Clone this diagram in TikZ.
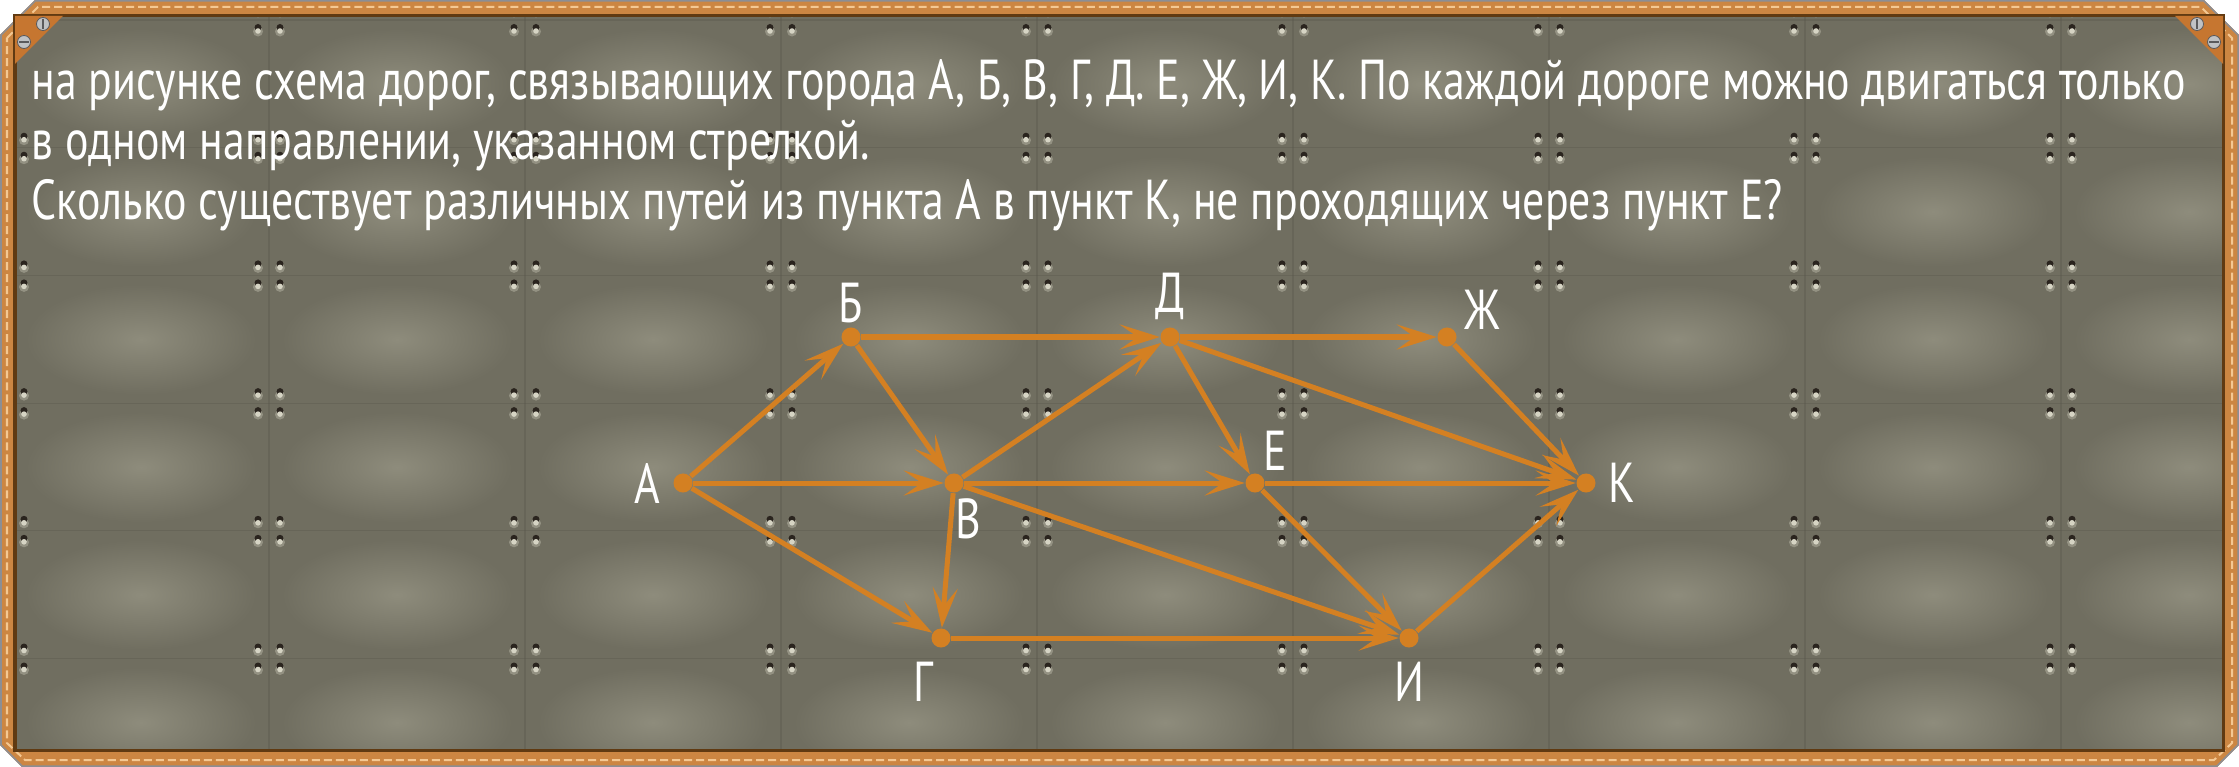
\documentclass[tikz,border=0pt]{standalone}
\usepackage{fontspec}
\setmainfont{PT Sans}[FakeStretch=0.78]
\usepackage{xcolor}
\usepackage{tikz}
\usetikzlibrary{positioning,arrows.meta}
\definecolor{panelcol}{RGB}{112,110,96}
\definecolor{patchcol}{RGB}{142,140,124}
\definecolor{seamcol}{RGB}{88,86,74}
\definecolor{roadcol}{RGB}{212,128,34}
\definecolor{framecol}{RGB}{204,134,66}
\definecolor{stitchcol}{RGB}{244,200,146}
\definecolor{rimcol}{RGB}{140,142,148}
\definecolor{edgecol}{RGB}{96,58,18}
\definecolor{rivetdark}{RGB}{42,36,30}
\definecolor{rivetlight}{RGB}{214,212,196}
\definecolor{platecol}{RGB}{198,118,48}
\definecolor{screwcol}{RGB}{192,194,196}
\definecolor{screwslot}{RGB}{90,90,92}

\begin{document}
\begin{tikzpicture}[
                x=0.01cm, y=-0.01cm,
                font=\fontsize{16pt}{20pt}\selectfont,
                >={Stealth[length=4mm, width=2.5mm, inset=1.8mm]},
                town/.style={circle, fill=roadcol, inner sep=0pt, minimum size=0.19cm},
                townlabel/.style={text=white, inner sep=0pt},
                road/.style={->, line width=0.05cm, draw=roadcol},
                textline/.style={text=white, anchor=base west, inner sep=0pt},
                screw/.style={fill=screwcol, draw=screwslot, line width=0.008cm}
                ]
                \useasboundingbox (0,0) rectangle (2239,767);

                % frame
                \fill[framecol] (0,35) -- (35,0) -- (2204,0) -- (2239,35) -- (2239,745) -- (2217,767) -- (22,767) -- (0,745) -- cycle;
                \draw[rimcol, line width=0.015cm] (1,35) -- (35,1) -- (2204,1) -- (2238,35) -- (2238,745) -- (2217,766) -- (22,766) -- (1,745) -- cycle;
                \draw[stitchcol, line width=0.02cm, dash pattern=on 0.08cm off 0.04cm] (7,38) -- (38,7) -- (2201,7) -- (2232,38) -- (2232,743) -- (2214,760) -- (25,760) -- (7,743) -- cycle;
                \fill[panelcol] (15,16) rectangle (2223,750);

                % panel texture: light patches, seams, rivets
                \begin{scope}
                    \clip (15,16) rectangle (2223,750);
                    \foreach \i in {0,...,8} {
                        \foreach \j in {0,...,5} {
                            \shade[inner color=patchcol, outer color=panelcol]
                                ({13+256*\i+128},{20+127.7*\j+64}) ellipse (1.15cm and 0.55cm);
                        }
                    }
                    \foreach \i in {0,...,8}
                        \draw[seamcol, line width=0.012cm, opacity=0.35] ({13+256*\i},16) -- ({13+256*\i},750);
                    \foreach \j in {0,...,5}
                        \draw[seamcol, line width=0.012cm, opacity=0.35] (15,{20+127.7*\j}) -- (2223,{20+127.7*\j});
                    \foreach \i in {0,...,8} {
                        \foreach \j in {0,...,5} {
                            \foreach \dx in {-11,11} {
                                \foreach \dy in {-9.5,9.5} {
                                    \fill[rivetlight, opacity=0.35] ({13+256*\i+\dx},{20+127.7*\j+\dy+2}) circle (0.05cm);
                                    \fill[rivetdark] ({13+256*\i+\dx},{20+127.7*\j+\dy-2}) circle (0.035cm);
                                    \fill[rivetlight] ({13+256*\i+\dx},{20+127.7*\j+\dy+1.5}) circle (0.028cm);
                                }
                            }
                        }
                    }
                \end{scope}
                \draw[edgecol, line width=0.03cm] (15,16) rectangle (2223,750);

                % corner plates with screws
                \fill[platecol] (15,16) -- (63,16) -- (15,64) -- cycle;
                \fill[platecol] (2223,16) -- (2175,16) -- (2223,64) -- cycle;
                \filldraw[screw] (43,24) circle (0.065cm);
                \filldraw[screw] (24,42) circle (0.065cm);
                \filldraw[screw] (2197,24) circle (0.065cm);
                \filldraw[screw] (2214,42) circle (0.065cm);
                \draw[screwslot, line width=0.015cm] (43,19) -- (43,29) (19,42) -- (29,42) (2197,19) -- (2197,29) (2209,42) -- (2219,42);

                % task text
                \node[textline] (line1) at (31,100) {на рисунке схема дорог, связывающих города А, Б, В, Г, Д. Е, Ж, И, К. По каждой дороге можно двигаться только};
                \node[textline] (line2) at (31,160) {в одном направлении, указанном стрелкой.};
                \node[textline] (line3) at (31,220) {Сколько существует различных путей из пункта А в пункт К, не проходящих через пункт Е?};

                % towns
                \node[town] (a) at (683,483) {};
                \node[town] (b) at (851,337) {};
                \node[town] (v) at (954,483) {};
                \node[town] (d) at (1170,337) {};
                \node[town] (zh) at (1447,337) {};
                \node[town] (e) at (1255,483) {};
                \node[town] (k) at (1586,483) {};
                \node[town] (i) at (1409,638) {};
                \node[town] (g) at (941,638) {};

                \node[townlabel, left=0.12cm of a] (la) {А};
                \node[townlabel, above=0.03cm of b] (lb) {Б};
                \node[townlabel, below right=0.08cm and -0.06cm of v] (lv) {В};
                \node[townlabel, above=0.06cm of d] (ld) {Д};
                \node[townlabel, above right=0.0cm and 0.1cm of zh] (lzh) {Ж};
                \node[townlabel, above right=0.05cm and 0.01cm of e] (le) {Е};
                \node[townlabel, right=0.12cm of k] (lk) {К};
                \node[townlabel, below=0.13cm of i] (li) {И};
                \node[townlabel, below left=0.16cm and 0cm of g] (lg) {Г};

                % roads
                \draw[road] (a) -- (b);
                \draw[road] (a) -- (v);
                \draw[road] (a) -- (g);
                \draw[road] (b) -- (d);
                \draw[road] (b) -- (v);
                \draw[road] (v) -- (d);
                \draw[road] (v) -- (e);
                \draw[road] (v) -- (g);
                \draw[road] (v) -- (i);
                \draw[road] (d) -- (zh);
                \draw[road] (d) -- (e);
                \draw[road] (d) -- (k);
                \draw[road] (zh) -- (k);
                \draw[road] (e) -- (k);
                \draw[road] (e) -- (i);
                \draw[road] (g) -- (i);
                \draw[road] (i) -- (k);
            \end{tikzpicture}
\end{document}
